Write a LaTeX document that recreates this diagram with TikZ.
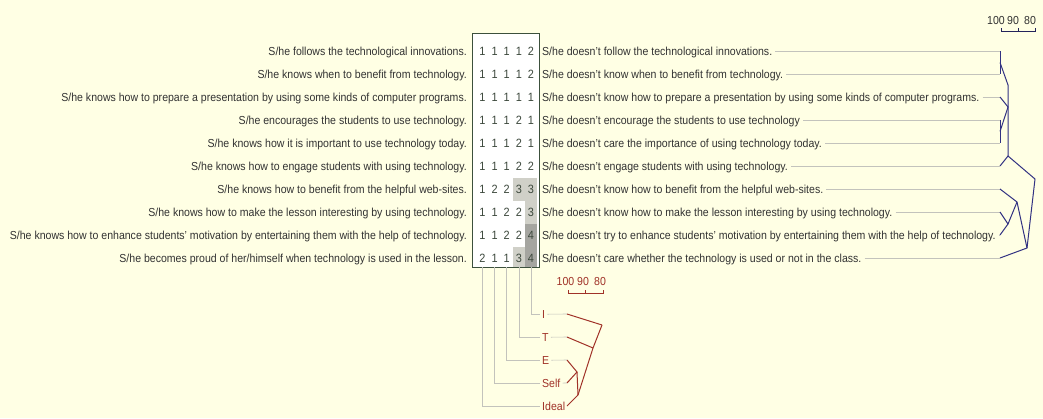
\documentclass[tikz,border=0pt]{standalone}
\usepackage{fontspec}
\setmainfont{Liberation Sans}[FakeStretch=0.91]
\usepackage{xcolor}
\usetikzlibrary{positioning, calc}

\definecolor{paper}{RGB}{255,255,228}
\definecolor{textgray}{RGB}{50,50,50}
\definecolor{digitgray}{RGB}{60,72,60}
\definecolor{boxgreen}{RGB}{60,80,60}
\definecolor{lowcell}{RGB}{208,208,200}
\definecolor{highcell}{RGB}{165,165,160}
\definecolor{leadgray}{RGB}{195,195,188}
\definecolor{treeblue}{RGB}{50,50,130}
\definecolor{treered}{RGB}{160,50,40}

\begin{document}
\begin{tikzpicture}[x=1pt, y=-1pt,
    construct/.style={anchor=base east, inner sep=0pt, text=textgray, font=\fontsize{11.6}{12}\selectfont},
    contrast/.style={anchor=base west, inner sep=0pt, text=textgray, font=\fontsize{11.6}{12}\selectfont},
    rating/.style={anchor=base, inner sep=0pt, text=digitgray, font=\fontsize{12}{12}\selectfont},
    element/.style={anchor=base west, inner sep=0pt, text=treered, font=\fontsize{11.6}{12}\selectfont},
    scalelabel/.style={anchor=base, inner sep=0pt, font=\fontsize{11.6}{12}\selectfont},
    gridbox/.style={draw=boxgreen, fill=white, line width=0.9pt, minimum width=67pt, minimum height=234pt, inner sep=0pt},
    leader/.style={draw=leadgray, line width=0.6pt},
    bluetree/.style={draw=treeblue, line width=1pt},
    redtree/.style={draw=treered, line width=1pt}]

    \fill[paper] (0,0) rectangle (1043,418);
    \useasboundingbox (0,0) rectangle (1043,418);

    % rating grid
    \node[gridbox] (grid) at (505.5,150) {};
    \foreach \r/\vals in {1/{1,1,1,1,2}, 2/{1,1,1,1,2}, 3/{1,1,1,1,1}, 4/{1,1,1,2,1}, 5/{1,1,1,2,1},
                          6/{1,1,1,2,2}, 7/{1,2,2,3,3}, 8/{1,1,2,2,3}, 9/{1,1,2,2,4}, 10/{2,1,1,3,4}} {
        \foreach \v [count=\c] in \vals {
            \pgfmathsetmacro{\cx}{482.5+12.1*(\c-1)}
            \pgfmathsetmacro{\cy}{51+23*(\r-1)}
            \pgfmathsetmacro{\cb}{min(\cy+11.5,266.5)}
            \ifnum\v=3 \fill[lowcell] (\cx-6.05,\cy-11.5) rectangle (\cx+6.05,\cb); \fi
            \ifnum\v=4 \fill[highcell] (\cx-6.05,\cy-11.5) rectangle (\cx+6.05,\cb); \fi
            \node[rating] (v\r-\c) at (\cx,\cy+4.2) {\v};
        }
    }

    % constructs
    \node[construct] (L1) at (467,55) {S/he follows the technological innovations.};
    \node[construct] (L2) at (467,78) {S/he knows when to benefit from technology.};
    \node[construct] (L3) at (467,101) {S/he knows how to prepare a presentation by using some kinds of computer programs.};
    \node[construct] (L4) at (467,124) {S/he encourages the students to use technology.};
    \node[construct] (L5) at (467,147) {S/he knows how it is important to use technology today.};
    \node[construct] (L6) at (467,170) {S/he knows how to engage students with using technology.};
    \node[construct] (L7) at (467,193) {S/he knows how to benefit from the helpful web-sites.};
    \node[construct] (L8) at (467,216) {S/he knows how to make the lesson interesting by using technology.};
    \node[construct] (L9) at (467,239) {S/he knows how to enhance students' motivation by entertaining them with the help of technology.};
    \node[construct] (L10) at (467,262) {S/he becomes proud of her/himself when technology is used in the lesson.};

    \node[contrast] (R1) at (542,55) {S/he doesn't follow the technological innovations.};
    \node[contrast] (R2) at (542,78) {S/he doesn't know when to benefit from technology.};
    \node[contrast] (R3) at (542,101) {S/he doesn't know how to prepare a presentation by using some kinds of computer programs.};
    \node[contrast] (R4) at (542,124) {S/he doesn't encourage the students to use technology};
    \node[contrast] (R5) at (542,147) {S/he doesn't care the importance of using technology today.};
    \node[contrast] (R6) at (542,170) {S/he doesn't engage students with using technology.};
    \node[contrast] (R7) at (542,193) {S/he doesn't know how to benefit from the helpful web-sites.};
    \node[contrast] (R8) at (542,216) {S/he doesn't know how to make the lesson interesting by using technology.};
    \node[contrast] (R9) at (542,239) {S/he doesn't try to enhance students' motivation by entertaining them with the help of technology.};
    \node[contrast] (R10) at (542,262) {S/he doesn't care whether the technology is used or not in the class.};

    \foreach \i in {1,...,10} {
        \coordinate (t\i) at (1000,{51+23*(\i-1)});
        \draw[leader] ($(R\i.east |- t\i)+(3,0)$) -- (t\i);
    }

    % construct tree
    \coordinate (b12) at ($(t1)!0.5!(t2)$);
    \coordinate (b45) at ($(t4)!0.5!(t5)$);
    \coordinate (j12) at (1008,85);
    \coordinate (j345) at (1008,107);
    \coordinate (j6) at (1008,156);
    \coordinate (jtop) at (1035,179);
    \coordinate (j89) at (1008,224);
    \coordinate (j789) at (1017,202);
    \coordinate (jbot) at (1027,248);
    \draw[bluetree] (t1) -- (t2);
    \draw[bluetree] (t4) -- (t5);
    \draw[bluetree] (b12) -- (j12) -- (j6);
    \draw[bluetree] (t3) -- (j345) -- (b45);
    \draw[bluetree] (t6) -- (j6) -- (jtop) -- (jbot) -- (t10);
    \draw[bluetree] (t7) -- (j789) -- (jbot);
    \draw[bluetree] (t8) -- (j89) -- (t9);
    \draw[bluetree] (j89) -- (j789);

    \coordinate (s100) at (1001.7,31);
    \coordinate (s90) at (1018.3,31);
    \coordinate (s80) at (1035,31);
    \draw[treeblue!70!black, line width=0.8pt] ([yshift=3pt]s100) -- (s100) -- (s80) -- ([yshift=3pt]s80);
    \draw[treeblue!70!black, line width=0.8pt] (s90) -- ([yshift=3pt]s90);
    \node[scalelabel, text=textgray] (n100) at (996,24) {100};
    \node[scalelabel, text=textgray] (n90) at (1013,24) {90};
    \node[scalelabel, text=textgray] (n80) at (1030,24) {80};

    % elements
    \foreach \c in {1,...,5}
        \coordinate (col\c) at ({482.5+12.1*(\c-1)},267);
    \node[element] (eI) at (542,318.2) {I};
    \node[element] (eT) at (542,341.2) {T};
    \node[element] (eE) at (542,364.2) {E};
    \node[element] (eSelf) at (542,387.2) {Self};
    \node[element] (eIdeal) at (542,410.2) {Ideal};
    \foreach \e/\c/\k in {eI/5/1, eT/4/2, eE/3/3, eSelf/2/4, eIdeal/1/5} {
        \coordinate (u\k) at (567,{314+23*(\k-1)});
        \draw[leader] (col\c) |- ($(\e.west)+(-2,0)$);
        \draw[leader] ($(\e.east)+(2,0)$) -- (u\k);
    }

    % element tree
    \coordinate (rES) at (577,372);
    \coordinate (rESI) at (578,395);
    \coordinate (rT) at (593,348);
    \coordinate (rI) at (602,325);
    \draw[redtree] (u1) -- (rI);
    \draw[redtree] (u2) -- (rT);
    \draw[redtree] (u3) -- (rES) -- (u4);
    \draw[redtree] (rES) -- (rESI);
    \draw[redtree] (u5) -- (rESI) -- (rT) -- (rI);

    \coordinate (e100) at (568.3,293);
    \coordinate (e90) at (585.7,293);
    \coordinate (e80) at (603.3,293);
    \draw[treered, line width=0.8pt] ([yshift=3pt]e100) -- (e100) -- (e80) -- ([yshift=3pt]e80);
    \draw[treered, line width=0.8pt] (e90) -- ([yshift=3pt]e90);
    \node[scalelabel, text=treered] (m100) at (565.5,285.8) {100};
    \node[scalelabel, text=treered] (m90) at (583,285.8) {90};
    \node[scalelabel, text=treered] (m80) at (600,285.8) {80};
\end{tikzpicture}
\end{document}
